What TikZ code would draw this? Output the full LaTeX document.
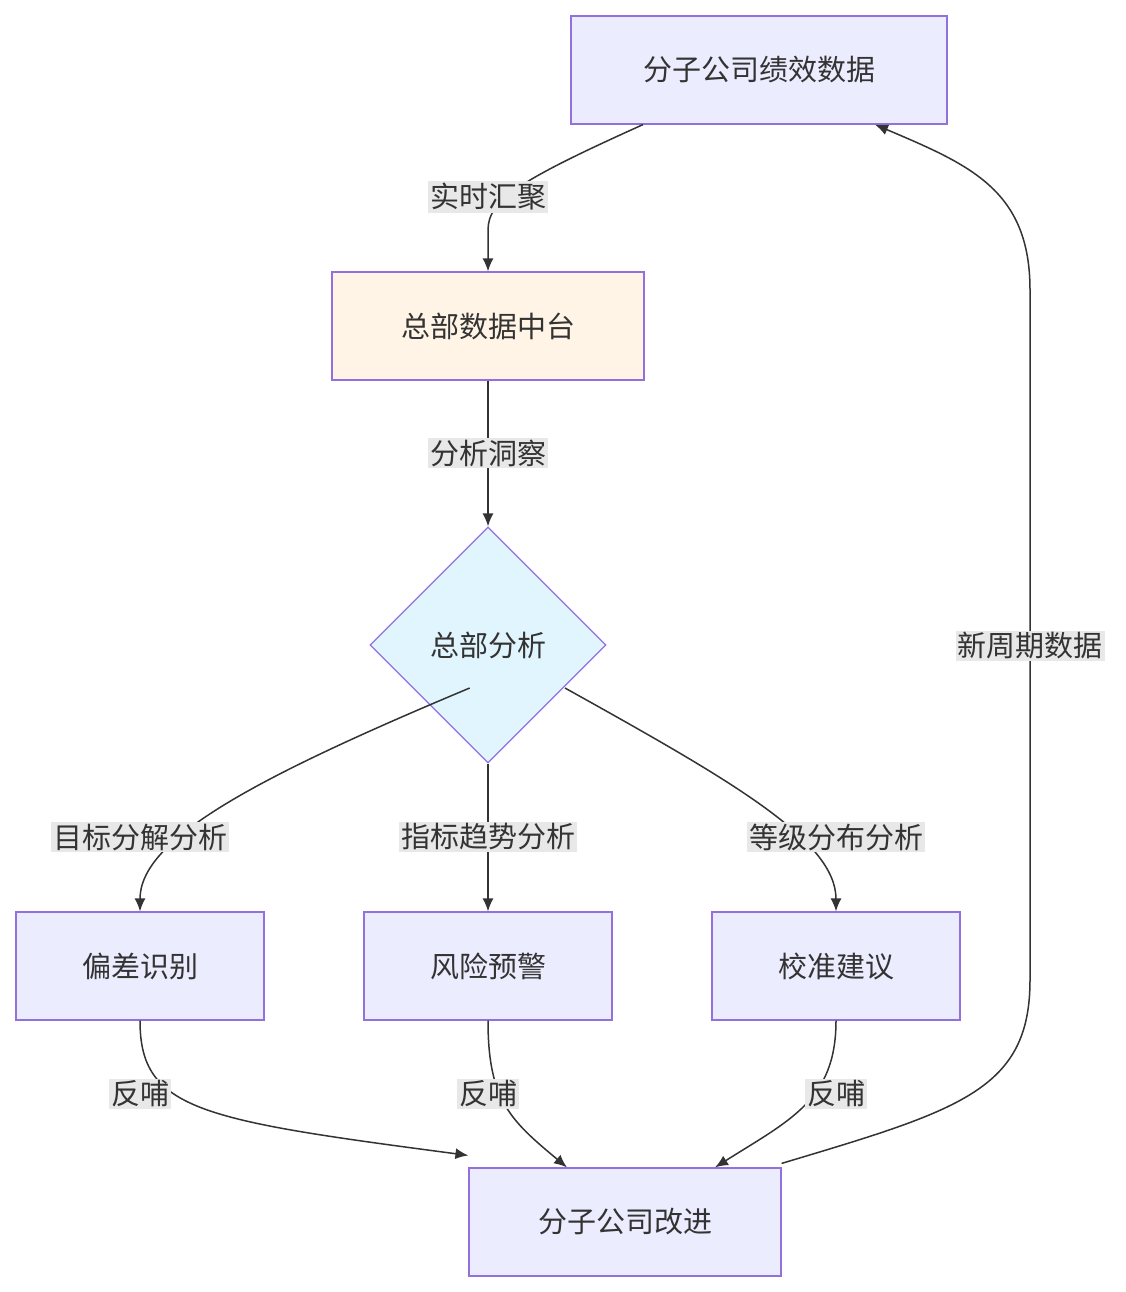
\documentclass[tikz,border=0pt]{standalone}
\usepackage{fontspec}
\setmainfont{Noto Sans CJK SC}
\usetikzlibrary{shapes.geometric,arrows.meta}
\definecolor{boxfill}{HTML}{ECECFF}
\definecolor{boxline}{HTML}{9370DB}
\definecolor{hubfill}{HTML}{FFF4E6}
\definecolor{decfill}{HTML}{E1F5FE}
\definecolor{lblfill}{HTML}{E8E8E8}
\definecolor{edge}{HTML}{333333}
\tikzset{
  box/.style={draw=boxline,fill=boxfill,line width=1.2pt,minimum height=108pt,text=edge,font=\fontsize{29}{34}\selectfont},
  dec/.style={diamond,draw=boxline,fill=decfill,line width=1.2pt,minimum width=236pt,minimum height=236pt,aspect=1,inner sep=0pt,text=edge,font=\fontsize{29}{34}\selectfont},
  lbl/.style={fill=lblfill,inner sep=2pt,text=edge,font=\fontsize{29}{34}\selectfont},
  link/.style={draw=edge,line width=1.5pt,-{Latex[length=13pt,width=11pt]}},
}
\begin{document}
\begin{tikzpicture}[x=1pt,y=-1pt]
    \useasboundingbox (0,0) rectangle (1126,1292);
    % nodes
    \node [box,minimum width=376pt] (perf) at (759,70) {分子公司绩效数据};
    \node [box,minimum width=312pt,fill=hubfill] (hub) at (488,326) {总部数据中台};
    \node [dec] (hq) at (488,645) {总部分析};
    \node [box,minimum width=248pt] (dev) at (140,966) {偏差识别};
    \node [box,minimum width=248pt] (risk) at (488,966) {风险预警};
    \node [box,minimum width=248pt] (cal) at (836,966) {校准建议};
    \node [box,minimum width=312pt] (imp) at (625,1222) {分子公司改进};

    % connectors
    \draw [link] ([xshift=-116pt]perf.south) .. controls (520,180) and (488,200) .. (488,230) -- (hub.north);
    \node [lbl] (l1) at (488,197) {实时汇聚};
    \draw [link] (hub) -- (hq);
    \node [lbl] (l2) at (488,453) {分析洞察};
    \draw [link] (hq.north west |- 0,688) ++(41,0) .. controls (250,780) and (140,840) .. (dev.north);
    \node [lbl] (l3) at (140,837) {目标分解分析};
    \draw [link] (hq) -- (risk);
    \node [lbl] (l4) at (488,837) {指标趋势分析};
    \draw [link] (565,688) .. controls (730,780) and (836,840) .. (cal.north);
    \node [lbl] (l5) at (836,837) {等级分布分析};
    \draw [link] (dev.south) .. controls (140,1110) and (200,1120) .. ([yshift=12pt]imp.north west);
    \node [lbl] (l6) at (140,1094) {反哺};
    \draw [link] (risk.south) .. controls (488,1100) and (510,1120) .. ([xshift=-58pt]imp.north);
    \node [lbl] (l7) at (488,1094) {反哺};
    \draw [link] (cal.south) .. controls (836,1100) and (790,1120) .. ([xshift=90pt]imp.north);
    \node [lbl] (l8) at (836,1094) {反哺};
    \draw [link] ([yshift=4pt]imp.north east) .. controls (960,1110) and (1030,1090) .. (1030,980)
        -- (1030,290) .. controls (1030,190) and (970,165) .. ([xshift=116pt]perf.south);
    \node [lbl] (l9) at (1030,646) {新周期数据};
\end{tikzpicture}
\end{document}
